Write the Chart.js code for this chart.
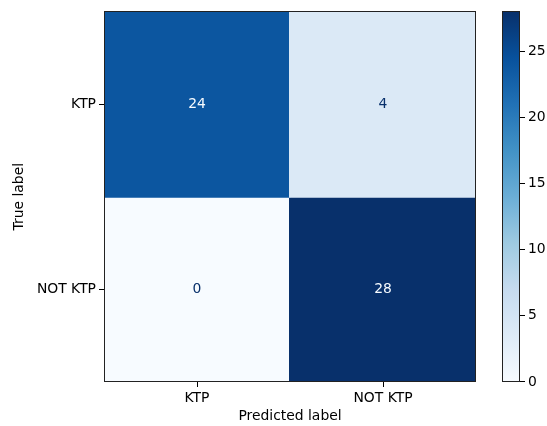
<!DOCTYPE html>
<html>
<head>
<meta charset="utf-8">
<script src="https://cdn.jsdelivr.net/npm/chart.js@4/dist/chart.umd.min.js"></script>
<style>
  html, body { margin: 0; padding: 0; background: #fff; }
  #wrap { position: relative; width: 547px; height: 426px; overflow: hidden; }
  #matrix { position: absolute; left: 0; top: 0; }
  #cbar { position: absolute; left: 480px; top: 0; }
</style>
</head>
<body>
<div id="wrap">
  <canvas id="matrix" width="490" height="426"></canvas>
  <canvas id="cbar" width="67" height="426"></canvas>
</div>
<script>
// Confusion matrix: rows = true label, columns = predicted label
const rowLabels = ['KTP', 'NOT KTP'];
const colLabels = ['KTP', 'NOT KTP'];
const countsKTP = [24, 4];
const countsNotKTP = [0, 28];
const matrix = [countsKTP, countsNotKTP];
const colorbarTicks = [0, 5, 10, 15, 20, 25];

const FONT = { family: '"DejaVu Sans", sans-serif', size: 13.9 };

// "Blues" sequential colormap stops
const BLUES = ['#f7fbff', '#deebf7', '#c6dbef', '#9ecae1', '#6baed6',
               '#4292c6', '#2171b5', '#08519c', '#08306b'];

function hexToRgb(h) {
  return [1, 3, 5].map(i => parseInt(h.slice(i, i + 2), 16));
}
function blues(t) {
  t = Math.min(1, Math.max(0, t));
  const pos = t * (BLUES.length - 1);
  const i = Math.min(BLUES.length - 2, Math.floor(pos));
  const f = pos - i;
  const a = hexToRgb(BLUES[i]), b = hexToRgb(BLUES[i + 1]);
  const c = a.map((v, k) => Math.round(v + (b[k] - v) * f));
  return `rgb(${c[0]},${c[1]},${c[2]})`;
}

const all = matrix.flat();
const vmin = Math.min(...all);
const vmax = Math.max(...all);
const norm = v => (v - vmin) / (vmax - vmin);
const threshold = (vmin + vmax) / 2;

// Thin dark frame around a chart area
const framePlugin = {
  id: 'frame',
  afterDraw(chart) {
    const { ctx, chartArea: a } = chart;
    ctx.save();
    ctx.strokeStyle = '#222';
    ctx.lineWidth = 1;
    ctx.strokeRect(Math.round(a.left) + 0.5, Math.round(a.top) + 0.5,
                   Math.round(a.right - a.left) - 1, Math.round(a.bottom - a.top) - 1);
    ctx.restore();
  }
};

// Count text in the middle of each cell
const cellTextPlugin = {
  id: 'cellText',
  afterDatasetsDraw(chart) {
    const { ctx } = chart;
    ctx.save();
    ctx.font = `${FONT.size}px ${FONT.family}`;
    ctx.textAlign = 'center';
    ctx.textBaseline = 'middle';
    matrix.forEach((row, r) => {
      const meta = chart.getDatasetMeta(r);
      meta.data.forEach((bar, c) => {
        const p = bar.getCenterPoint();
        const v = row[c];
        ctx.fillStyle = v > threshold ? blues(0) : blues(1);
        ctx.fillText(String(v), p.x, p.y);
      });
    });
    ctx.restore();
  }
};

new Chart(document.getElementById('matrix'), {
  type: 'bar',
  data: {
    labels: colLabels,
    datasets: matrix.map((row, r) => ({
      label: rowLabels[r],
      data: row.map(() => [r - 0.5, r + 0.5]),
      backgroundColor: row.map(v => blues(norm(v))),
      borderWidth: 0,
      inflateAmount: 1,
      barPercentage: 1,
      categoryPercentage: 1,
      grouped: false
    }))
  },
  options: {
    responsive: false,
    animation: false,
    devicePixelRatio: 1,
    layout: { padding: { top: 9, right: 14, left: 0, bottom: 0 } },
    plugins: { legend: { display: false }, tooltip: { enabled: false } },
    scales: {
      x: {
        type: 'category',
        grid: { offset: false, drawOnChartArea: false, drawTicks: true, tickLength: 5, color: '#000' },
        border: { display: false },
        ticks: { color: '#000', font: FONT, padding: 3, maxRotation: 0 },
        title: { display: true, text: 'Predicted label', color: '#000', font: FONT,
                 padding: { top: 0, bottom: 1 } },
        afterFit(s) { s.height = 44; }
      },
      y: {
        type: 'linear',
        min: -0.5,
        max: rowLabels.length - 0.5,
        reverse: true,
        afterBuildTicks(s) { s.ticks = rowLabels.map((_, i) => ({ value: i })); },
        grid: { drawOnChartArea: false, drawTicks: true, tickLength: 5, color: '#000' },
        border: { display: false },
        ticks: { color: '#000', font: FONT, padding: 3, callback: v => rowLabels[v] },
        title: { display: true, text: 'True label', color: '#000', font: FONT,
                 padding: { top: 11, bottom: 0 } },
        afterFit(s) { s.width = 104; }
      }
    }
  },
  plugins: [cellTextPlugin, framePlugin]
});

// Colour bar
new Chart(document.getElementById('cbar'), {
  type: 'bar',
  data: {
    labels: [''],
    datasets: [{
      data: [[vmin, vmax]],
      borderWidth: 0,
      barPercentage: 1,
      categoryPercentage: 1,
      backgroundColor(ctx) {
        const chart = ctx.chart;
        const a = chart.chartArea;
        if (!a) return BLUES[0];
        const y = chart.scales.y;
        const g = chart.ctx.createLinearGradient(0, y.getPixelForValue(vmin), 0, y.getPixelForValue(vmax));
        BLUES.forEach((c, i) => g.addColorStop(i / (BLUES.length - 1), c));
        return g;
      }
    }]
  },
  options: {
    responsive: false,
    animation: false,
    devicePixelRatio: 1,
    layout: { padding: { top: 9, right: 0, left: 22, bottom: 44 } },
    plugins: { legend: { display: false }, tooltip: { enabled: false } },
    scales: {
      x: { display: false },
      y: {
        position: 'right',
        min: vmin,
        max: vmax,
        afterBuildTicks(s) { s.ticks = colorbarTicks.map(v => ({ value: v })); },
        grid: { drawOnChartArea: false, drawTicks: true, tickLength: 5, color: '#000' },
        border: { display: false },
        ticks: { color: '#000', font: FONT, padding: 3 },
        afterFit(s) { s.width = 27; }
      }
    }
  },
  plugins: [framePlugin]
});
</script>
</body>
</html>
